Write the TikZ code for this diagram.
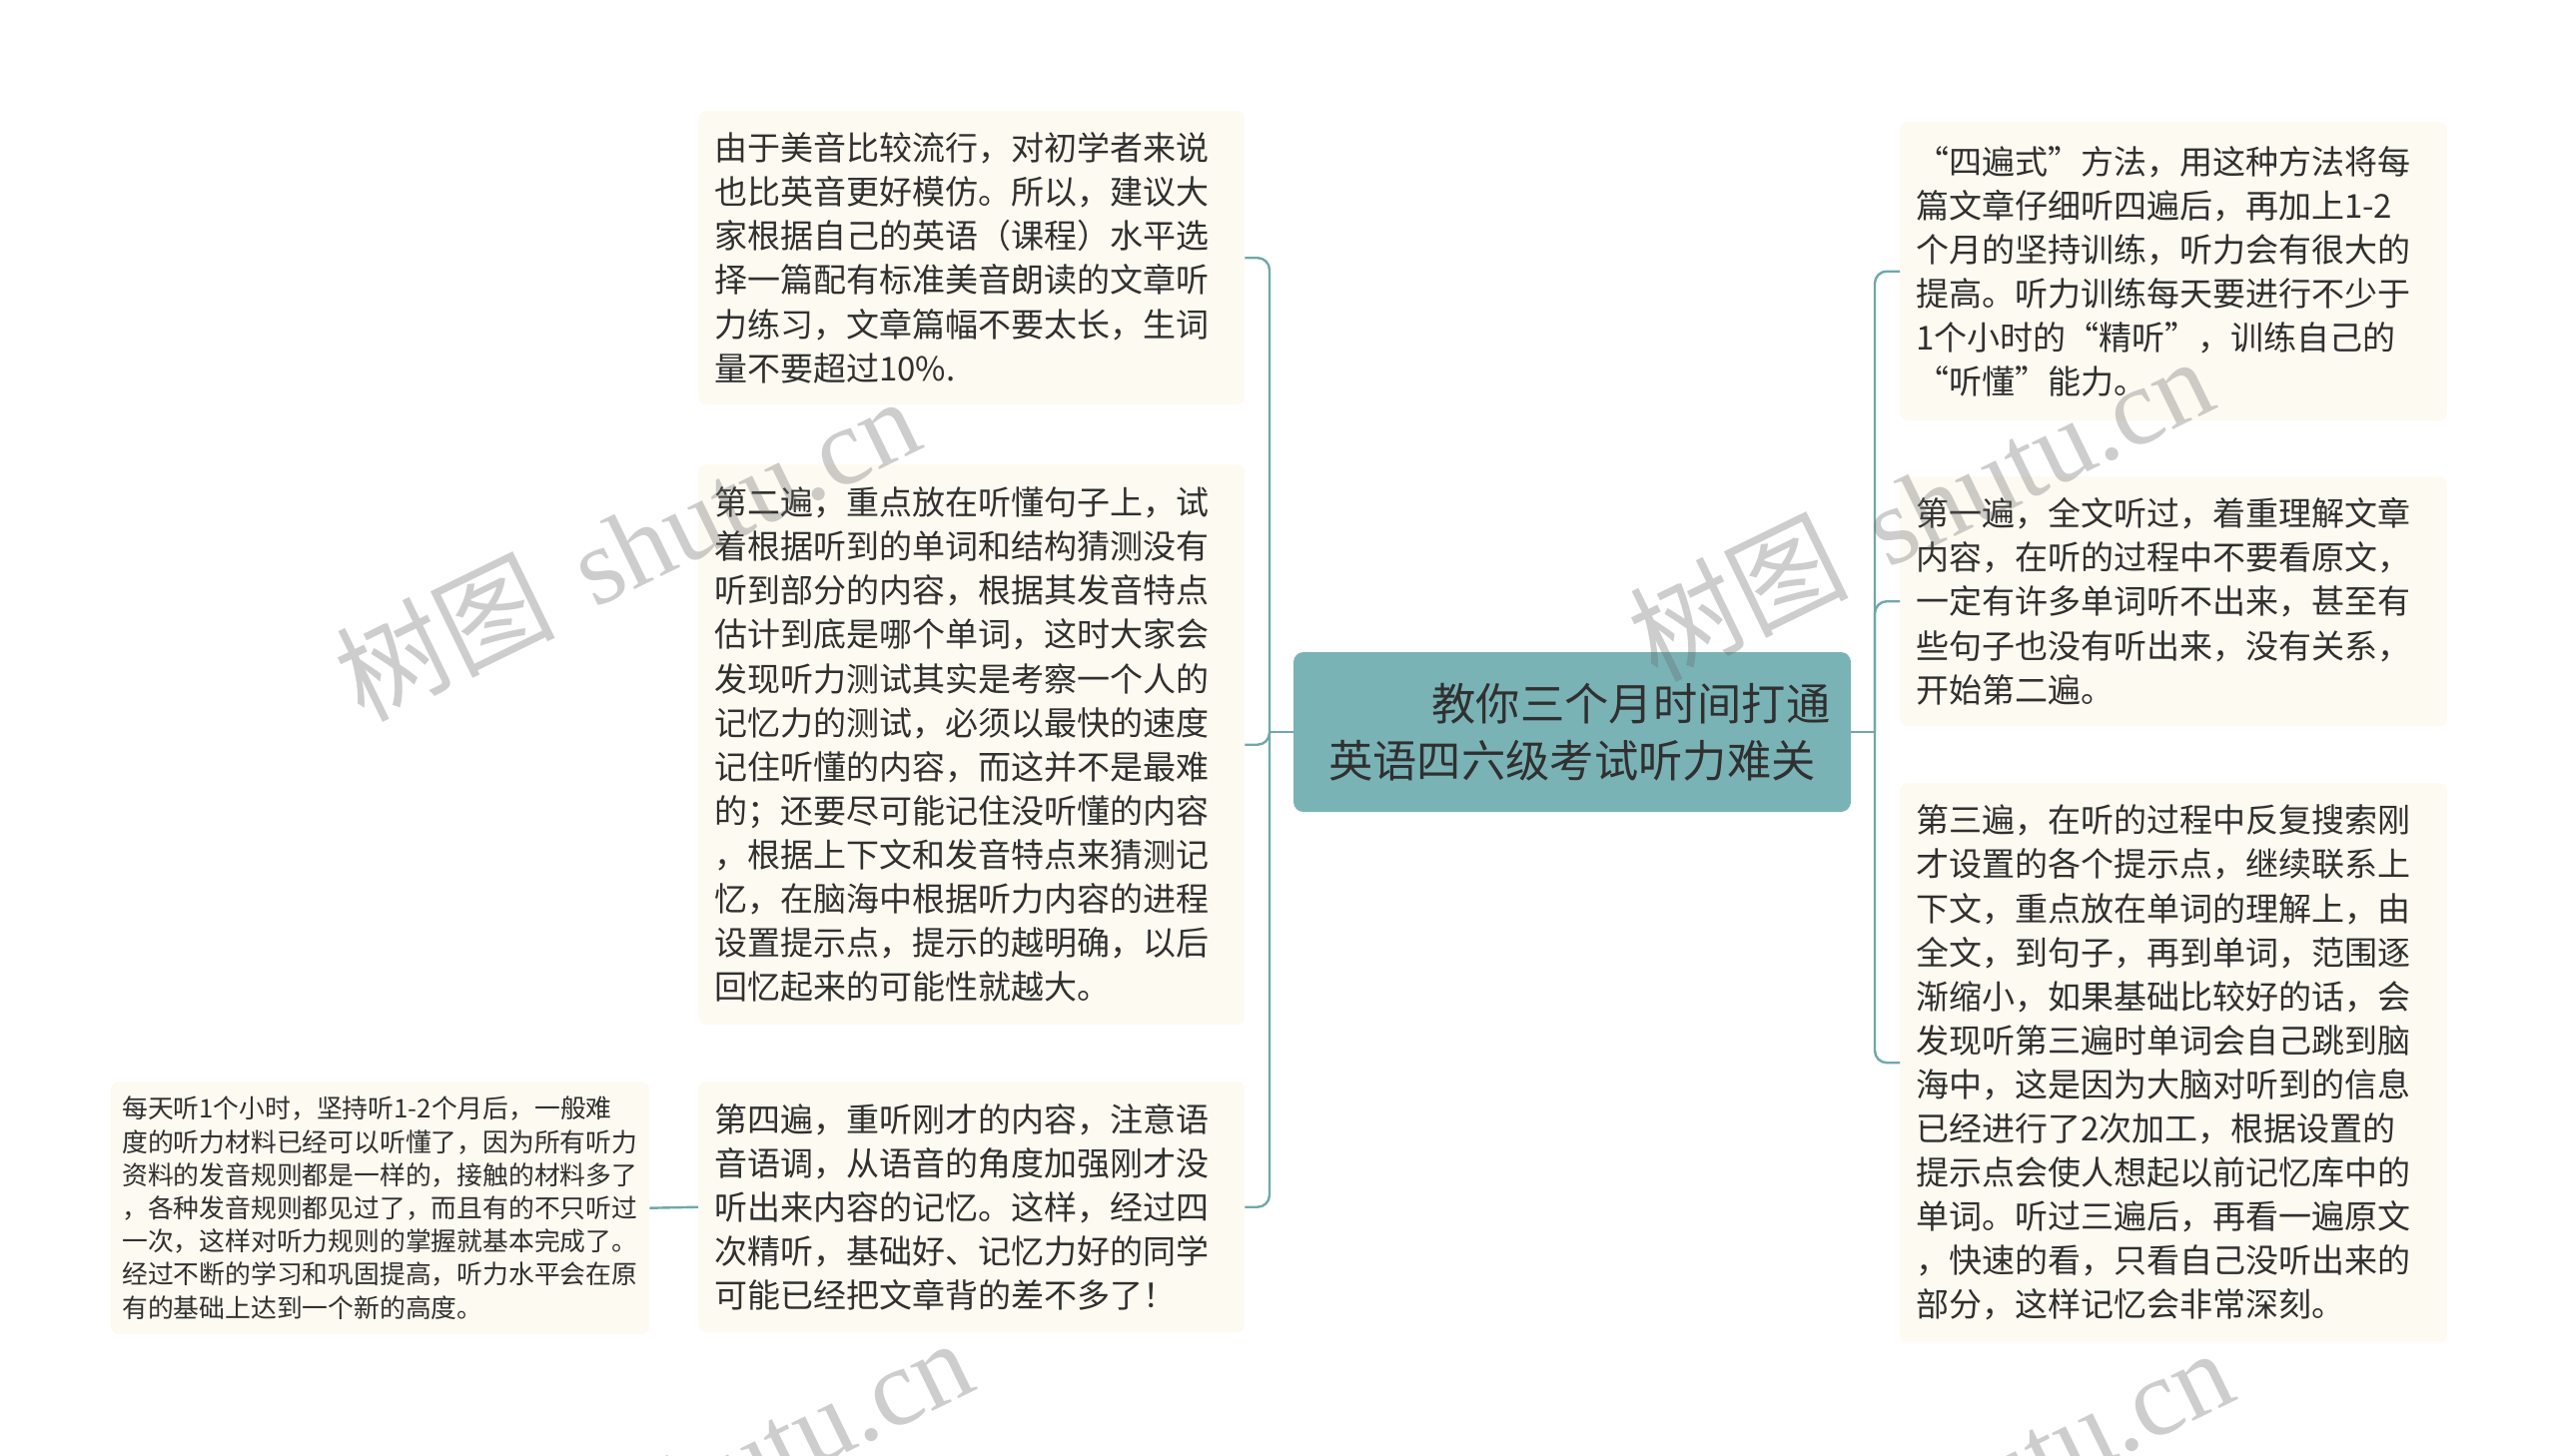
\documentclass[tikz,border=0pt]{standalone}
\usepackage{fontspec}
\newfontfamily\cjk{Noto Sans CJK SC}
\newfontfamily\wmlatin{Liberation Serif}
\definecolor{linec}{HTML}{6FA8AC}
\definecolor{centralfill}{HTML}{7AB3B6}
\definecolor{leaffill}{HTML}{FDFAF1}
\definecolor{textc}{HTML}{303030}
\begin{document}
\begin{tikzpicture}[x=1pt,y=-1pt,
  leaf/.style={fill=leaffill, rounded corners=8pt, anchor=north west, inner xsep=16pt, inner ysep=0pt, align=left, text=textc, font=\cjk\fontsize{33}{44.1}\selectfont},
  smallleaf/.style={leaf, inner xsep=11pt, font=\cjk\fontsize{25.8}{33.2}\selectfont},
  central/.style={fill=centralfill, rounded corners=10pt, inner sep=0pt, align=center, text=textc, font=\cjk\fontsize{44.3}{57}\selectfont, minimum width=558pt, minimum height=160pt},
  conn/.style={draw=linec, line width=2.4pt, rounded corners=12pt},
  wm/.style={font=\cjk\fontsize{110}{110}\selectfont, text=black!60, opacity=0.32, inner sep=0pt}]
\useasboundingbox (0,0) rectangle (2560,1457);
\fill[white] (0,0) rectangle (2560,1457);
\clip (0,0) rectangle (2560,1457);

% central node
\node[central] (C) at (1574,733) {\hspace*{118pt}教你三个月时间打通\\英语四六级考试听力难关};

% left leaves
\node[leaf, minimum width=547pt, text width=515pt, minimum height=294pt] (B1) at (699,111) {由于美音比较流行，对初学者来说\\也比英音更好模仿。所以，建议大\\家根据自己的英语（课程）水平选\\择一篇配有标准美音朗读的文章听\\力练习，文章篇幅不要太长，生词\\量不要超过10\%.};
\node[leaf, minimum width=547pt, text width=515pt, minimum height=561pt] (B2) at (699,465) {第二遍，重点放在听懂句子上，试\\着根据听到的单词和结构猜测没有\\听到部分的内容，根据其发音特点\\估计到底是哪个单词，这时大家会\\发现听力测试其实是考察一个人的\\记忆力的测试，必须以最快的速度\\记住听懂的内容，而这并不是最难\\的；还要尽可能记住没听懂的内容\\，根据上下文和发音特点来猜测记\\忆，在脑海中根据听力内容的进程\\设置提示点，提示的越明确，以后\\回忆起来的可能性就越大。};
\node[leaf, minimum width=547pt, text width=515pt, minimum height=251pt] (B3) at (699,1083) {第四遍，重听刚才的内容，注意语\\音语调，从语音的角度加强刚才没\\听出来内容的记忆。这样，经过四\\次精听，基础好、记忆力好的同学\\可能已经把文章背的差不多了！};
\node[smallleaf, minimum width=539pt, text width=517pt, minimum height=253pt] (B4) at (111,1083) {每天听1个小时，坚持听1-2个月后，一般难\\度的听力材料已经可以听懂了，因为所有听力\\资料的发音规则都是一样的，接触的材料多了\\，各种发音规则都见过了，而且有的不只听过\\一次，这样对听力规则的掌握就基本完成了。\\经过不断的学习和巩固提高，听力水平会在原\\有的基础上达到一个新的高度。};

% right leaves
\node[leaf, minimum width=548pt, text width=516pt, minimum height=299pt] (B5) at (1902,122) {“四遍式”方法，用这种方法将每\\篇文章仔细听四遍后，再加上1-2\\个月的坚持训练，听力会有很大的\\提高。听力训练每天要进行不少于\\1个小时的“精听”，训练自己的\\“听懂”能力。};
\node[leaf, minimum width=548pt, text width=516pt, minimum height=250pt] (B6) at (1902,477) {第一遍，全文听过，着重理解文章\\内容，在听的过程中不要看原文，\\一定有许多单词听不出来，甚至有\\些句子也没有听出来，没有关系，\\开始第二遍。};
\node[leaf, minimum width=548pt, text width=516pt, minimum height=560pt] (B7) at (1902,784) {第三遍，在听的过程中反复搜索刚\\才设置的各个提示点，继续联系上\\下文，重点放在单词的理解上，由\\全文，到句子，再到单词，范围逐\\渐缩小，如果基础比较好的话，会\\发现听第三遍时单词会自己跳到脑\\海中，这是因为大脑对听到的信息\\已经进行了2次加工，根据设置的\\提示点会使人想起以前记忆库中的\\单词。听过三遍后，再看一遍原文\\，快速的看，只看自己没听出来的\\部分，这样记忆会非常深刻。};

% connectors
\coordinate (LJ) at (1271,733);
\coordinate (RJ) at (1877,733);
\draw[conn] (C.west) -- (LJ);
\draw[conn] (LJ) |- (B1.east);
\draw[conn] (LJ) |- (B2.east);
\draw[conn] (LJ) |- (B3.east);
\draw[conn] (B3.west) -- (B4.east);
\draw[conn] (C.east) -- (RJ);
\draw[conn] (RJ) |- (B5.west);
\draw[conn] (RJ) |- (B6.west);
\draw[conn] (RJ) |- (B7.west);

% watermarks
\node[wm, rotate=26] (W1) at (627,548) {树图\hspace{0.35em}{\wmlatin shutu.cn}};
\node[wm, rotate=26] (W2) at (1922,508) {树图\hspace{0.35em}{\wmlatin shutu.cn}};
\node[wm, rotate=26] (W3) at (680,1490) {树图\hspace{0.35em}{\wmlatin shutu.cn}};
\node[wm, rotate=26] (W4) at (1942,1500) {树图\hspace{0.35em}{\wmlatin shutu.cn}};
\end{tikzpicture}
\end{document}
